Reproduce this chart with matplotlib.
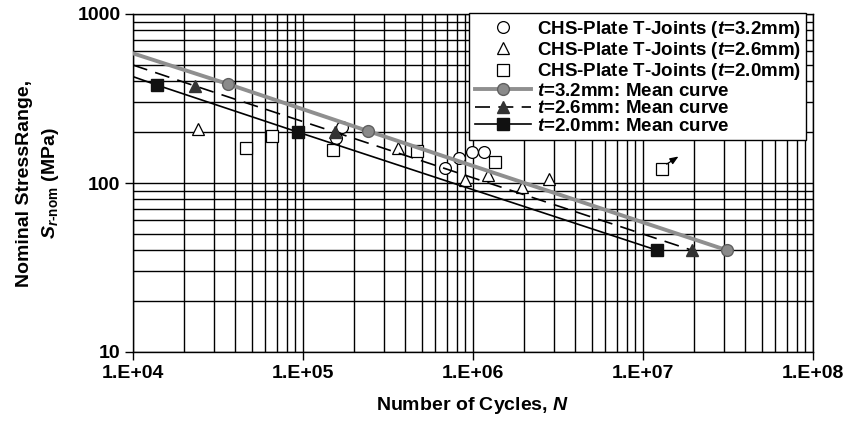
import matplotlib
matplotlib.use("Agg")
import matplotlib.pyplot as plt
from matplotlib.ticker import FixedLocator, NullFormatter, LogLocator
from matplotlib.transforms import offset_copy

plt.rcParams['font.family'] = ['Liberation Sans', 'DejaVu Sans']
plt.rcParams['font.weight'] = 'bold'
plt.rcParams['mathtext.fontset'] = 'custom'
plt.rcParams['mathtext.rm'] = 'Liberation Sans:bold'
plt.rcParams['mathtext.it'] = 'Liberation Sans:italic:bold'
plt.rcParams['mathtext.bf'] = 'Liberation Sans:bold'

# test data (open markers)
n_32 = [1.69e5, 1.56e5, 6.84e5, 8.28e5, 9.87e5, 1.16e6]
s_32 = [214, 185, 123, 141, 152, 152]

n_26 = [2.41e4, 3.62e5, 8.98e5, 1.22e6, 1.94e6, 2.80e6]
s_26 = [209, 161, 104, 111, 94.6, 106]

n_20 = [4.62e4, 6.57e4, 1.50e5, 4.69e5, 1.35e6, 1.29e7]
s_20 = [161, 190, 157, 155, 133, 121]
runout_n = 1.29e7
runout_s = 121

# mean curves (first point is the curve start at the left edge)
mean_n_32 = [1.0e4, 3.62e4, 2.41e5, 3.12e7]
mean_s_32 = [585, 385, 203, 40]
mean_n_26 = [1.0e4, 2.32e4, 1.54e5, 1.94e7]
mean_s_26 = [499, 375, 200, 40]
mean_n_20 = [1.0e4, 1.38e4, 9.35e4, 1.21e7]
mean_s_20 = [426, 380, 200, 40]

x_ticks = [1e4, 1e5, 1e6, 1e7, 1e8]
x_labels = ['1.E+04', '1.E+05', '1.E+06', '1.E+07', '1.E+08']
y_ticks = [10, 100, 1000]
y_labels = ['10', '100', '1000']

fig = plt.figure(figsize=(8.48, 4.24), dpi=100)
ax = fig.add_axes([133 / 848, 1 - 352 / 424, 680 / 848, 338 / 424])
ax.set_xscale('log')
ax.set_yscale('log')
ax.set_xlim(1e4, 1e8)
ax.set_ylim(10, 1000)

fs = 14

# open markers
ax.plot(n_32, s_32, ls='none', marker='o', ms=8.5, mfc='white', mec='black', mew=0.9,
        label='CHS-Plate T-Joints ($t$=3.2mm)', zorder=3)
ax.plot(n_26, s_26, ls='none', marker='^', ms=8.5, mfc='white', mec='black', mew=0.9,
        label='CHS-Plate T-Joints ($t$=2.6mm)', zorder=3)
ax.plot(n_20, s_20, ls='none', marker='s', ms=8.5, mfc='white', mec='black', mew=0.9,
        label='CHS-Plate T-Joints ($t$=2.0mm)', zorder=3)

# runout arrow
head = offset_copy(ax.transData, fig=fig, x=12, y=9, units='points')
tail = offset_copy(ax.transData, fig=fig, x=3.5, y=3.5, units='points')
ax.annotate('', xy=(runout_n, runout_s), xycoords=head,
            xytext=(runout_n, runout_s), textcoords=tail,
            arrowprops=dict(arrowstyle='-|>,head_length=0.5,head_width=0.2',
                            color='black', lw=0.9, shrinkA=0, shrinkB=0), zorder=3)

# mean curves
ax.plot(mean_n_32, mean_s_32, color='#8f8f8f', lw=2.8, marker='o', ms=8.5,
        mfc='#8a8a8a', mec='#5f5f5f', markevery=[1, 2, 3],
        label='$t$=3.2mm: Mean curve', zorder=4)
ax.plot(mean_n_26, mean_s_26, color='black', lw=1.2, dashes=(9, 5), marker='^', ms=9,
        mfc='#333333', mec='#333333', markevery=[1, 2, 3],
        label='$t$=2.6mm: Mean curve', zorder=4)
ax.plot(mean_n_20, mean_s_20, color='black', lw=1.2, marker='s', ms=9,
        mfc='#111111', mec='#111111', markevery=[1, 2, 3],
        label='$t$=2.0mm: Mean curve', zorder=4)

# grid and ticks
ax.xaxis.set_major_locator(FixedLocator(x_ticks))
ax.set_xticklabels(x_labels)
ax.yaxis.set_major_locator(FixedLocator(y_ticks))
ax.set_yticklabels(y_labels)
ax.xaxis.set_minor_locator(LogLocator(base=10, subs=range(2, 10)))
ax.yaxis.set_minor_locator(LogLocator(base=10, subs=range(2, 10)))
ax.xaxis.set_minor_formatter(NullFormatter())
ax.yaxis.set_minor_formatter(NullFormatter())
ax.tick_params(which='major', direction='out', length=6, width=1, labelsize=fs, pad=3)
ax.tick_params(which='minor', length=0)
ax.grid(True, which='both', color='black', lw=1.0, zorder=0)
ax.set_axisbelow(True)
for sp in ax.spines.values():
    sp.set_linewidth(1.0)
    sp.set_color('black')

ax.set_xlabel('Number of Cycles, $N$', fontsize=fs, fontweight='bold', labelpad=10)
ax.set_ylabel('Nominal StressRange,\n$S_{r\\text{-nom}}$ (MPa)', fontsize=fs,
              fontweight='bold', labelpad=12, linespacing=1.45)

leg = ax.legend(loc='upper right', bbox_to_anchor=(0.99, 1.003), fontsize=13.5,
                frameon=True, fancybox=False, framealpha=1, edgecolor='black',
                labelspacing=0.02, handlelength=3.0, handletextpad=0.3,
                borderpad=0.3, borderaxespad=0)
leg.get_frame().set_linewidth(1.0)
leg.set_zorder(5)

fig.savefig('out.png', dpi=100)
